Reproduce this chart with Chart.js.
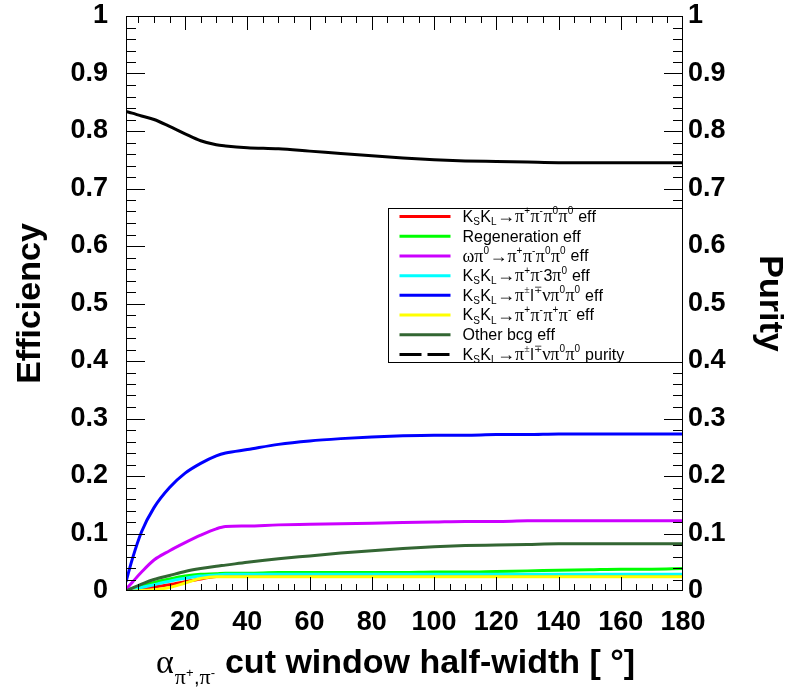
<!DOCTYPE html>
<html>
<head>
<meta charset="utf-8">
<script src="https://cdn.jsdelivr.net/npm/chart.js@4.4.0/dist/chart.umd.min.js"></script>
<style>
html, body { margin: 0; padding: 0; background: #fff; }
#wrap { position: relative; width: 795px; height: 693px; }
</style>
</head>
<body>
<div id="wrap"><canvas id="eff-chart"></canvas></div>
<script>
// cut window half-width (deg)
const cutWidth = [1, 3, 6, 10, 15, 20, 25, 30, 33, 40, 50, 60, 70, 80, 90, 100, 110, 120, 130, 140, 150, 160, 170, 180];

const signalEff  = [0, 0.001, 0.004, 0.007, 0.011, 0.016, 0.021, 0.025, 0.026, 0.027, 0.027, 0.027, 0.027, 0.027, 0.027, 0.027, 0.027, 0.027, 0.027, 0.027, 0.027, 0.027, 0.027, 0.027];
const regenEff   = [0, 0.004, 0.009, 0.015, 0.021, 0.026, 0.029, 0.030, 0.031, 0.031, 0.032, 0.032, 0.032, 0.032, 0.032, 0.033, 0.033, 0.034, 0.035, 0.036, 0.037, 0.038, 0.038, 0.039];
const omegaEff   = [0.003, 0.015, 0.033, 0.054, 0.070, 0.084, 0.097, 0.108, 0.112, 0.113, 0.115, 0.116, 0.117, 0.118, 0.119, 0.120, 0.121, 0.121, 0.122, 0.122, 0.122, 0.122, 0.122, 0.122];
const threePi0Eff = [0, 0.002, 0.006, 0.011, 0.017, 0.022, 0.026, 0.028, 0.029, 0.029, 0.029, 0.029, 0.029, 0.029, 0.029, 0.029, 0.029, 0.029, 0.029, 0.029, 0.029, 0.029, 0.029, 0.029];
const semilepEff = [0.016, 0.055, 0.103, 0.145, 0.180, 0.205, 0.222, 0.235, 0.240, 0.246, 0.255, 0.261, 0.265, 0.268, 0.270, 0.271, 0.271, 0.272, 0.272, 0.273, 0.273, 0.273, 0.273, 0.273];
const fourPiEff  = [0, 0, 0.001, 0.002, 0.006, 0.014, 0.022, 0.025, 0.025, 0.025, 0.025, 0.025, 0.025, 0.025, 0.025, 0.025, 0.025, 0.025, 0.025, 0.025, 0.025, 0.025, 0.025, 0.025];
const otherEff   = [0, 0.005, 0.012, 0.020, 0.027, 0.034, 0.039, 0.043, 0.045, 0.050, 0.056, 0.061, 0.066, 0.070, 0.074, 0.077, 0.079, 0.080, 0.081, 0.082, 0.082, 0.082, 0.082, 0.082];
const purity     = [0.834, 0.831, 0.826, 0.820, 0.808, 0.795, 0.783, 0.776, 0.774, 0.771, 0.769, 0.765, 0.761, 0.757, 0.753, 0.750, 0.748, 0.747, 0.746, 0.745, 0.745, 0.745, 0.745, 0.745];

const xTickLabels = [20, 40, 60, 80, 100, 120, 140, 160, 180];

const legendLabels = [
  'K_{S}K_{L}→π^{+}π^{-}π^{0}π^{0} eff',
  'Regeneration eff',
  'ωπ^{0}→π^{+}π^{-}π^{0}π^{0} eff',
  'K_{S}K_{L}→π^{+}π^{-}3π^{0} eff',
  'K_{S}K_{L}→π^{±}l^{∓}νπ^{0}π^{0} eff',
  'K_{S}K_{L}→π^{+}π^{-}π^{+}π^{-} eff',
  'Other bcg eff',
  'K_{S}K_{L}→π^{±}l^{∓}νπ^{0}π^{0} purity'
];

const sans = 'Liberation Sans, Arial, Helvetica, sans-serif';
const serif = 'Liberation Serif, Times New Roman, serif';

function pts(arr) {
  return cutWidth.map((x, i) => ({ x: x, y: arr[i] }));
}

function mkSet(label, arr, color, order, axis) {
  return {
    label: label,
    data: pts(arr),
    borderColor: color,
    backgroundColor: color,
    borderWidth: 3,
    pointRadius: 0,
    fill: false,
    order: order,
    cubicInterpolationMode: 'monotone',
    yAxisID: axis || 'y'
  };
}

// tiny parser for "a_{b}c^{d}" style labels
function parseRich(str) {
  const out = [];
  let i = 0;
  while (i < str.length) {
    const c = str[i];
    if ((c === '_' || c === '^') && str[i + 1] === '{') {
      const end = str.indexOf('}', i);
      out.push({ t: str.slice(i + 2, end), m: c === '_' ? 'sub' : 'sup' });
      i = end + 1;
    } else {
      let j = i;
      while (j < str.length && !((str[j] === '_' || str[j] === '^') && str[j + 1] === '{')) j++;
      out.push({ t: str.slice(i, j), m: '' });
      i = j;
    }
  }
  return out;
}

function drawRich(ctx, str, x, y, size, bold) {
  const greek = /[α-ωΑ-Ω→±∓]/;
  parseRich(str).forEach(seg => {
    const sz = seg.m ? Math.round(size * 0.65) : size;
    const dy = seg.m === 'sub' ? size * 0.3 : (seg.m === 'sup' ? -size * 0.36 : 0);
    for (const ch of seg.t) {
      const isG = greek.test(ch);
      const chSize = isG && !seg.m ? Math.round(sz * 1.1) : sz;
      ctx.font = (bold && !isG ? 'bold ' : '') + chSize + 'px ' + (isG ? serif : sans);
      ctx.fillText(ch, x, y + dy);
      x += ctx.measureText(ch).width + (seg.m ? 0.5 : 0);
    }
  });
  return x;
}

const rootDecor = {
  id: 'rootDecor',
  afterDatasetsDraw(chart) {
    const { ctx, chartArea: a, scales } = chart;
    const x = scales.x, y = scales.y;
    ctx.save();

    // inward ticks on all four sides
    ctx.strokeStyle = '#000';
    ctx.lineWidth = 1;
    ctx.beginPath();
    for (let v = 5; v < 180; v += 5) {
      const px = Math.round(x.getPixelForValue(v)) + 0.5;
      const len = v % 20 === 0 ? 14 : 7;
      ctx.moveTo(px, a.bottom); ctx.lineTo(px, a.bottom - len);
      ctx.moveTo(px, a.top); ctx.lineTo(px, a.top + len);
    }
    for (let k = 1; k < 50; k++) {
      const py = Math.round(y.getPixelForValue(k / 50)) + 0.5;
      const len = k % 5 === 0 ? 19 : 10;
      ctx.moveTo(a.left, py); ctx.lineTo(a.left + len, py);
      ctx.moveTo(a.right, py); ctx.lineTo(a.right - len, py);
    }
    ctx.stroke();
    ctx.strokeRect(Math.round(a.left) + 0.5, Math.round(a.top) + 0.5,
      Math.round(a.right - a.left) - 1, Math.round(a.bottom - a.top) - 1);

    // legend box
    const w = a.right - a.left, h = a.bottom - a.top;
    const bx = Math.round(a.left + 0.47 * w) + 0.5;
    const by = Math.round(a.top + 0.334 * h) + 0.5;
    const bw = Math.round(a.right) - bx - 0.5;
    const bh = Math.round(0.268 * h);
    ctx.fillStyle = '#fff';
    ctx.fillRect(bx, by, bw, bh);
    ctx.strokeRect(bx, by, bw, bh);
    const step = (bh - 16) / 7;
    ctx.textBaseline = 'middle';
    chart.data.datasets.forEach((ds, i) => {
      const ry = by + 8 + step * i;
      ctx.beginPath();
      ctx.strokeStyle = ds.borderColor;
      ctx.lineWidth = 3;
      if (i === 7) ctx.setLineDash([22, 6]);
      ctx.moveTo(bx + 11, ry);
      ctx.lineTo(bx + 62, ry);
      ctx.stroke();
      ctx.setLineDash([]);
      ctx.fillStyle = '#000';
      drawRich(ctx, legendLabels[i], bx + 74, ry + 1, 16, false);
    });

    // x axis title
    ctx.textBaseline = 'alphabetic';
    let tx = 156;
    const base = 673;
    ctx.font = '34px ' + serif;
    ctx.fillText('α', tx, base);
    tx += ctx.measureText('α').width + 1;
    tx = drawRich(ctx, 'π^{+},π^{-}', tx, base + 11, 20, false);
    ctx.font = 'bold 34px ' + sans;
    ctx.fillText(' cut window half-width [ °]', tx, base);

    ctx.restore();
  }
};

const yTickFmt = v => String(Number(v.toFixed(1)));

function fixY(width) {
  return axis => {
    axis.width = width;
    axis.paddingTop = 16;
    axis.paddingBottom = 0;
  };
}

const ctx = document.getElementById('eff-chart').getContext('2d');
const effChart = new Chart(ctx, {
  type: 'line',
  data: {
    datasets: [
      mkSet('signal', signalEff, '#ff0000', 8),
      mkSet('regen', regenEff, '#00ff00', 7),
      mkSet('omega', omegaEff, '#cc00ff', 6),
      mkSet('3pi0', threePi0Eff, '#00ffff', 5),
      mkSet('semilep', semilepEff, '#0000ff', 4),
      mkSet('4pi', fourPiEff, '#ffff00', 3),
      mkSet('other', otherEff, '#336633', 2),
      mkSet('purity', purity, '#000000', 1, 'y2')
    ]
  },
  options: {
    responsive: true,
    maintainAspectRatio: false,
    animation: false,
    layout: { padding: 0 },
    plugins: { legend: { display: false }, tooltip: { enabled: false } },
    scales: {
      x: {
        type: 'linear',
        min: 1,
        max: 180,
        afterBuildTicks: axis => { axis.ticks = xTickLabels.map(v => ({ value: v })); },
        afterFit: axis => { axis.height = 102; axis.paddingLeft = 0; axis.paddingRight = 0; },
        grid: { display: false, drawTicks: false },
        border: { display: false },
        ticks: {
          color: '#000',
          padding: 18,
          maxRotation: 0,
          autoSkip: false,
          font: { family: sans, size: 27, weight: 'bold', lineHeight: 1 }
        }
      },
      y: {
        position: 'left',
        min: 0,
        max: 1,
        afterFit: fixY(126),
        grid: { display: false, drawTicks: false },
        border: { display: false },
        ticks: {
          stepSize: 0.1,
          color: '#000',
          padding: 18,
          callback: yTickFmt,
          font: { family: sans, size: 27, weight: 'bold', lineHeight: 1 }
        },
        title: {
          display: true,
          text: 'Efficiency',
          color: '#000',
          padding: 10,
          font: { family: sans, size: 34, weight: 'bold' }
        }
      },
      y2: {
        position: 'right',
        min: 0,
        max: 1,
        afterFit: fixY(112),
        grid: { display: false, drawTicks: false },
        border: { display: false },
        ticks: {
          stepSize: 0.1,
          color: '#000',
          padding: 5,
          callback: yTickFmt,
          font: { family: sans, size: 27, weight: 'bold', lineHeight: 1 }
        },
        title: {
          display: true,
          text: 'Purity',
          color: '#000',
          padding: 5,
          font: { family: sans, size: 34, weight: 'bold' }
        }
      }
    }
  },
  plugins: [rootDecor]
});
</script>
</body>
</html>
